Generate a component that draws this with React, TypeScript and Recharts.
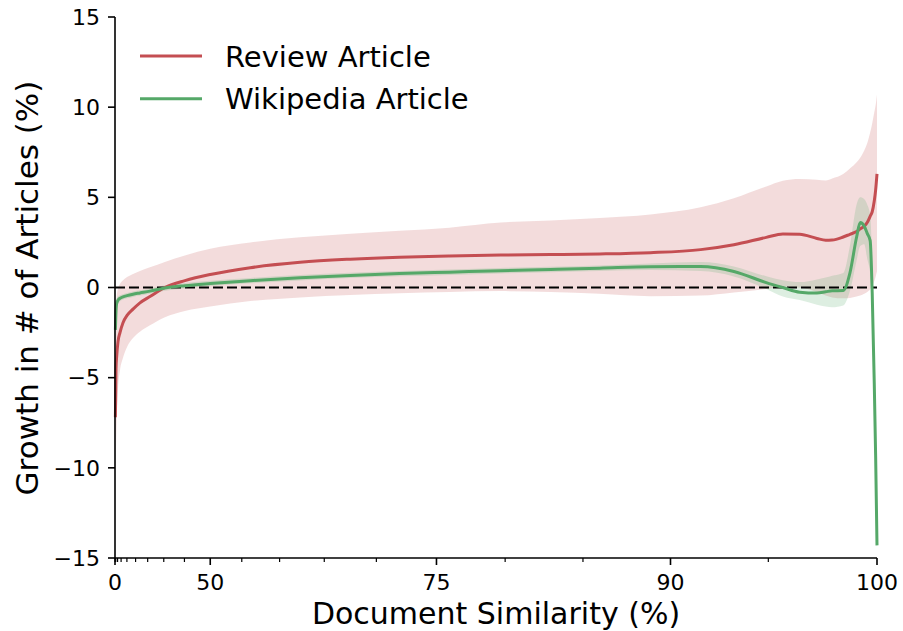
import { ComposedChart, Line, Area, XAxis, YAxis, ReferenceLine, Customized } from 'recharts'

const FONT = '"DejaVu Sans", sans-serif'
const RED = '#c44e52'
const GREEN = '#55a868'

// document similarity (%) at each sample
const SIMILARITY = [
  8, 11, 13.1, 15.8, 18.7, 21.9, 25.1, 28.7, 32, 35.8,
  40.3, 45.1, 50, 56.2, 62.4, 67.6, 72, 76, 79.7, 83,
  86, 88.9, 91.6, 93.3, 94.9, 95.7, 96.5, 97.3, 97.7, 98.0,
  98.5, 98.8, 99.1, 99.26, 99.44, 99.57, 99.7, 99.79, 99.88, 99.94,
  100,
]

const REVIEW = [
  -7.2, -4.5, -3.8, -3.0, -2.5, -1.95, -1.55, -1.2, -0.85, -0.5,
  0.0, 0.38, 0.72, 1.1, 1.4, 1.57, 1.68, 1.75, 1.8, 1.83,
  1.86, 1.93, 2.1, 2.37, 2.78, 2.97, 2.95, 2.72, 2.62, 2.63,
  2.8, 2.95, 3.1, 3.25, 3.4, 3.6, 3.95, 4.2, 4.8, 5.4,
  6.3,
]
const REVIEW_LO = [
  -10.3, -8.8, -7.3, -5.6, -4.6, -3.9, -3.3, -2.8, -2.45, -2.1,
  -1.65, -1.3, -1.05, -0.75, -0.55, -0.42, -0.32, -0.25, -0.2, -0.25,
  -0.35, -0.48, -0.45, -0.28, -0.08, 0.03, -0.02, -0.25, -0.45, -0.55,
  -0.6, -0.58, -0.5, -0.45, -0.35, -0.25, -0.1, 0.1, 0.35, 0.6,
  0.9,
]
const REVIEW_HI = [
  -4.0, -1.4, -0.5, -0.05, 0.2, 0.4, 0.58, 0.75, 0.92, 1.12,
  1.42, 1.78, 2.15, 2.5, 2.78, 2.98, 3.15, 3.32, 3.6, 3.72,
  3.85, 4.05, 4.45, 4.95, 5.6, 5.92, 6.02, 5.98, 5.94, 6.05,
  6.3, 6.6, 6.95, 7.2, 7.6, 8.0, 8.6, 9.1, 9.7, 10.1,
  10.7,
]

const WIKI = [
  -2.35, -1.3, -0.87, -0.7, -0.6, -0.52, -0.45, -0.37, -0.3, -0.2,
  -0.03, 0.1, 0.22, 0.38, 0.54, 0.67, 0.77, 0.85, 0.93, 1.0,
  1.07, 1.15, 1.16, 0.89, 0.27, 0.0, -0.26, -0.31, -0.24, -0.18,
  -0.17, 0.8, 2.8, 3.6, 3.4, 3.0, 2.6, -0.3, -5.3, -9.3,
  -14.3,
]
const WIKI_LO = [
  -3.0, -1.75, -1.15, -0.92, -0.77, -0.67, -0.6, -0.52, -0.45, -0.35,
  -0.18, -0.05, 0.07, 0.23, 0.39, 0.52, 0.62, 0.7, 0.78, 0.85,
  0.92, 0.97, 0.91, 0.61, -0.08, -0.5, -0.7, -0.95, -1.05, -1.1,
  -1.0, -0.2, 1.5, 2.3, 2.4, 1.6, 0.8, -1.4, -5.9, -9.8,
  -14.5,
]
const WIKI_HI = [
  -1.7, -0.85, -0.6, -0.5, -0.43, -0.37, -0.3, -0.22, -0.15, -0.05,
  0.12, 0.25, 0.37, 0.53, 0.69, 0.82, 0.92, 1.0, 1.08, 1.15,
  1.22, 1.33, 1.41, 1.17, 0.62, 0.4, 0.3, 0.45, 0.55, 0.65,
  0.8, 2.3, 4.6, 5.0, 4.9, 4.6, 4.0, 1.3, -4.7, -8.8,
  -14.1,
]

const MAJOR_TICKS = [0, 50, 75, 90, 100]
const MINOR_TICKS = [5, 10, 15, 20, 25, 30, 35, 40, 45, 55, 60, 65, 70, 80, 85, 95]
const Y_TICKS = [-15, -10, -5, 0, 5, 10, 15]

// the x axis is cubic in similarity
const toPos = (s: number) => Math.pow(s / 100, 3)

const data = SIMILARITY.map((s, i) => ({
  u: toPos(s),
  review: REVIEW[i],
  reviewBand: [REVIEW_LO[i], REVIEW_HI[i]],
  wiki: WIKI[i],
  wikiBand: [WIKI_LO[i], WIKI_HI[i]],
}))

const xTicks = [...MAJOR_TICKS, ...MINOR_TICKS].map(toPos)

const XTick = ({ x, y, payload }: any) => {
  const s = Math.round(Math.cbrt(payload.value) * 100)
  const major = MAJOR_TICKS.includes(s)
  return (
    <g>
      <line x1={x} x2={x} y1={y} y2={y + (major ? 7 : 4)} stroke="#000" strokeWidth={major ? 1.6 : 1.2} />
      {major && (
        <text x={x} y={y + 32} textAnchor="middle" fontSize={22} fontFamily={FONT} fill="#000">{s}</text>
      )}
    </g>
  )
}

const Decorations = () => (
  <g fontFamily={FONT} fill="#000">
    <line x1={140} x2={202} y1={56} y2={56} stroke={RED} strokeWidth={3} />
    <text x={225} y={66.5} fontSize={29}>Review Article</text>
    <line x1={140} x2={202} y1={98.7} y2={98.7} stroke={GREEN} strokeWidth={3} />
    <text x={225} y={109.2} fontSize={29}>Wikipedia Article</text>
    <text x={496} y={623.5} fontSize={30} textAnchor="middle">Document Similarity (%)</text>
    <text transform="rotate(-90)" x={-288} y={38} fontSize={31} textAnchor="middle">Growth in # of Articles (%)</text>
  </g>
)

export default function App() {
  return (
    <div style={{ position: 'absolute', left: 0, top: 0 }}>
      <ComposedChart width={903} height={631} data={data} margin={{ top: 17, right: 26, bottom: 0, left: 0 }}>
        <XAxis
          type="number"
          dataKey="u"
          domain={[0, 1]}
          ticks={xTicks}
          interval={0}
          tickSize={0}
          tickMargin={0}
          tickLine={false}
          tick={XTick}
          height={73}
          axisLine={{ stroke: '#000', strokeWidth: 1.6 }}
        />
        <YAxis
          type="number"
          domain={[-15, 15]}
          ticks={Y_TICKS}
          interval={0}
          width={115}
          tickSize={7}
          tickMargin={8}
          tickFormatter={(v: number) => (v < 0 ? `\u2212${-v}` : `${v}`)}
          tick={{ fill: '#000', fontSize: 22, fontFamily: FONT }}
          tickLine={{ stroke: '#000', strokeWidth: 1.6 }}
          axisLine={{ stroke: '#000', strokeWidth: 1.6 }}
        />
        <Area type="monotone" dataKey="reviewBand" stroke="none" fill={RED} fillOpacity={0.2} isAnimationActive={false} activeDot={false} />
        <Area type="monotone" dataKey="wikiBand" stroke="none" fill={GREEN} fillOpacity={0.2} isAnimationActive={false} activeDot={false} />
        <ReferenceLine y={0} stroke="#000" strokeWidth={2} strokeDasharray="10 4" />
        <Line type="monotone" dataKey="review" stroke={RED} strokeWidth={3} dot={false} isAnimationActive={false} />
        <Line type="monotone" dataKey="wiki" stroke={GREEN} strokeWidth={3} dot={false} isAnimationActive={false} />
        <Customized component={Decorations} />
      </ComposedChart>
    </div>
  )
}
